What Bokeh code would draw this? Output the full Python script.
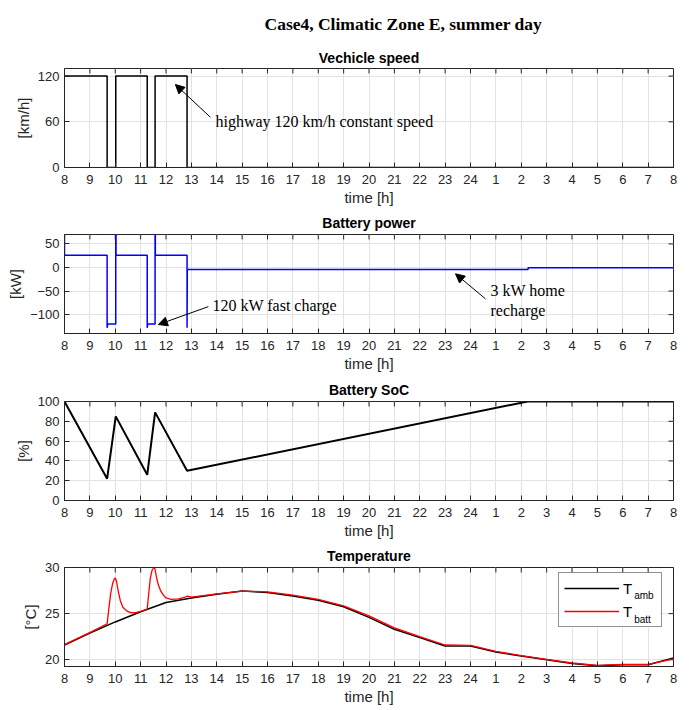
from bokeh.plotting import figure
from bokeh.models import (FixedTicker, Range1d, Title, Label, Arrow, NormalHead,
                          Legend, LegendItem, BoxAnnotation)
from bokeh.layouts import column
from bokeh.embed import file_html
from bokeh.resources import INLINE

# ---------------- data ----------------
hour_ticks = list(range(8, 33))
hour_labels = [str(h) for h in range(8, 25)] + [str(h) for h in range(1, 9)]

speed_t = [8.0, 9.68, 9.68, 10.02, 10.02, 11.26, 11.26, 11.57, 11.57, 12.83, 12.83, 32.0]
speed_v = [120, 120, 0, 0, 120, 120, 0, 0, 120, 120, 0, 0]

power_t = [8.0, 8.0, 9.68, 9.68, 9.70, 10.02, 10.02, 10.03, 10.03, 11.26, 11.26, 11.28,
           11.57, 11.57, 11.58, 11.58, 12.83, 12.83, 12.84, 26.27, 26.27, 32.0]
power_v = [75, 26, 26, -128, -120, -120, 75, 75, 26, 26, -128, -120,
           -120, 75, 75, 26, 26, -128, -4, -4, -0.7, -0.7]

soc_t = [8.0, 9.68, 10.02, 11.26, 11.57, 12.83, 26.25, 32.0]
soc_v = [100, 22, 85, 26, 89, 30, 100, 100]

temp_t = [8, 9, 10, 11, 12, 13, 14, 15, 16, 17, 18, 19, 20, 21, 22, 23, 24,
          25, 26, 27, 28, 29, 30, 31, 32]
t_amb = [21.6, 22.9, 24.1, 25.2, 26.2, 26.7, 27.1, 27.45, 27.3, 26.9, 26.45, 25.75,
         24.6, 23.3, 22.4, 21.5, 21.5, 20.85, 20.4, 20.0, 19.6, 19.35, 19.45, 19.45, 20.2]

batt_t = [8, 9, 9.68, 9.75, 9.82, 9.9, 9.97, 10.0, 10.05, 10.12, 10.2, 10.3, 10.45, 10.6,
          10.8, 11.0, 11.26, 11.32, 11.38, 11.45, 11.52, 11.56, 11.62, 11.7, 11.8, 11.9,
          12.0, 12.2, 12.5, 12.75, 12.85, 13.0, 14, 15, 16, 17, 18, 19, 20, 21, 22, 23,
          24, 25, 26, 27, 28, 29, 30, 31, 32]
t_batt = [21.65, 22.95, 23.9, 25.6, 27.2, 28.3, 28.8, 28.85, 28.5, 27.4, 26.4, 25.7, 25.3,
          25.1, 25.1, 25.25, 25.5, 27.2, 28.8, 29.7, 30.0, 29.9, 29.0, 28.1, 27.4, 27.0,
          26.7, 26.55, 26.6, 26.8, 26.9, 26.8, 27.15, 27.45, 27.35, 27.0, 26.55, 25.85,
          24.75, 23.45, 22.5, 21.6, 21.55, 20.9, 20.45, 20.05, 19.65, 19.4, 19.5, 19.5, 20.1]

# ---------------- style ----------------
AX = "#262626"
GRID = "#e2e2e2"
SANS = "Liberation Sans"
SERIF = "Liberation Serif"
FRAME_W = 609
TICK_PX = 5


def make_panel(title, ylabel, yr, yticks, height, top, bottom, frame_h,
               title_standoff=7, main=None):
    p = figure(width=690, height=height, x_range=Range1d(8, 32), y_range=Range1d(*yr),
               output_backend="svg", toolbar_location=None, title=None,
               min_border_left=64, min_border_right=17,
               min_border_top=top, min_border_bottom=bottom)
    p.outline_line_color = AX
    p.outline_line_width = 1
    p.background_fill_color = "white"
    p.border_fill_color = "white"

    xa = p.xaxis[0]
    xa.ticker = FixedTicker(ticks=hour_ticks)
    xa.major_label_overrides = {t: l for t, l in zip(hour_ticks, hour_labels)}
    xa.axis_label = "time [h]"
    ya = p.yaxis[0]
    ya.ticker = FixedTicker(ticks=yticks)
    ya.axis_label = ylabel
    for a in (xa, ya):
        a.major_tick_in = TICK_PX
        a.major_tick_out = 0
        a.minor_tick_line_color = None
        a.axis_line_color = AX
        a.major_tick_line_color = AX
        a.major_label_text_font = SANS
        a.major_label_text_font_size = "13px"
        a.major_label_text_color = AX
        a.axis_label_text_font = SANS
        a.axis_label_text_font_size = "15px"
        a.axis_label_text_font_style = "normal"
        a.axis_label_text_color = AX
    xa.major_label_standoff = 7
    xa.axis_label_standoff = 2
    ya.major_label_standoff = 5
    ya.axis_label_standoff = 3

    p.xgrid.ticker = FixedTicker(ticks=hour_ticks)
    p.ygrid.ticker = FixedTicker(ticks=yticks)
    p.xgrid.grid_line_color = GRID
    p.ygrid.grid_line_color = GRID

    # inward tick marks on the top and right edges of the box (MATLAB "box on")
    y0, y1 = yr
    dy = TICK_PX * (y1 - y0) / frame_h
    dx = TICK_PX * (32 - 8) / FRAME_W
    n = len(hour_ticks)
    p.segment(x0=hour_ticks, y0=[y1] * n, x1=hour_ticks, y1=[y1 - dy] * n,
              line_color=AX, line_width=1)
    m = len(yticks)
    p.segment(x0=[32] * m, y0=yticks, x1=[32 - dx] * m, y1=yticks,
              line_color=AX, line_width=1)

    p.add_layout(Title(text=title, align="center", text_font=SANS, text_font_size="14px",
                       text_font_style="bold", text_color="black",
                       standoff=title_standoff), "above")
    if main is not None:
        p.add_layout(Title(text=main, align="left", offset=200, text_font=SERIF,
                           text_font_size="17.5px", text_font_style="bold",
                           text_color="black", standoff=23), "above")
    return p


def arrow(p, xs, ys, xe, ye):
    p.add_layout(Arrow(end=NormalHead(size=9, fill_color="black", line_color="black"),
                       x_start=xs, y_start=ys, x_end=xe, y_end=ye,
                       line_color="black", line_width=1))


def note(p, x, y, text):
    p.add_layout(Label(x=x, y=y, text=text, text_font=SERIF, text_font_size="16px",
                       text_baseline="middle", text_align="left", text_color="black"))


# ---------------- panel 1: speed ----------------
p1 = make_panel("Vechicle speed", "[km/h]", (0, 130), [0, 60, 120], 209, 67, 42, 100,
                title_standoff=5, main="Case4, Climatic Zone E, summer day")
p1.line(speed_t, speed_v, line_color="black", line_width=1.5)
arrow(p1, 13.75, 66, 12.37, 109)
note(p1, 13.95, 61, "highway 120 km/h constant speed")

# ---------------- panel 2: power ----------------
p2 = make_panel("Battery power", "[kW]", (-140, 70), [-100, -50, 0, 50], 167, 24, 43, 100)
p2.line(power_t, power_v, line_color="#0000ff", line_width=1.5)
arrow(p2, 13.67, -83, 11.70, -121)
note(p2, 13.83, -81, "120 kW fast charge")
arrow(p2, 24.59, -66.5, 23.41, -13.4)
note(p2, 24.79, -49.7, "3 kW home")
note(p2, 24.79, -91.7, "recharge")

# ---------------- panel 3: SoC ----------------
p3 = make_panel("Battery SoC", "[%]", (0, 100), [0, 20, 40, 60, 80, 100], 166, 25, 42, 99)
p3.line(soc_t, soc_v, line_color="black", line_width=2)

# ---------------- panel 4: temperature ----------------
p4 = make_panel("Temperature", "[°C]", (19.27, 30), [20, 25, 30], 168, 25, 44, 99)
r_amb = p4.line(temp_t, t_amb, line_color="black", line_width=1.5)
r_batt = p4.line(batt_t, t_batt, line_color="#ff0000", line_width=1.3)
# white legend background (drawn below the transparent legend and the subscripts)
p4.add_layout(BoxAnnotation(left=27.47, right=31.49, top=29.45, bottom=23.46,
                            fill_color="white", fill_alpha=1, line_color=None))
leg = Legend(items=[LegendItem(label="T", renderers=[r_amb]),
                    LegendItem(label="T", renderers=[r_batt])],
             location=(494, 39), padding=5, spacing=3, glyph_width=55, glyph_height=20,
             label_height=20, label_width=33, label_standoff=4, margin=0,
             border_line_color=AX, border_line_width=1, background_fill_alpha=0,
             label_text_font=SANS, label_text_font_size="15px",
             label_text_color="black")
p4.add_layout(leg, "center")
p4.add_layout(Label(x=30.45, y=26.96, text="amb", text_font=SANS, text_font_size="10px",
                    text_baseline="middle", text_color="black"))
p4.add_layout(Label(x=30.45, y=24.36, text="batt", text_font=SANS, text_font_size="10px",
                    text_baseline="middle", text_color="black"))

layout = column(p1, p2, p3, p4, spacing=0)
open("out.html", "w").write(file_html(layout, INLINE))
